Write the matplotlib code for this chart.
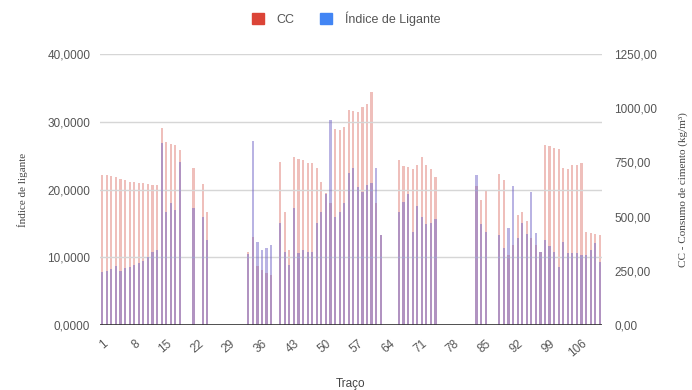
import matplotlib
matplotlib.use('Agg')
import matplotlib.pyplot as plt
from matplotlib.patches import Patch
from matplotlib.ticker import FuncFormatter, FixedLocator

plt.rcParams['font.family'] = ['Liberation Sans', 'DejaVu Sans']

# traços with data (the rest of 1..110 are empty)
n_tracos = 110
tracos = [1, 2, 3, 4, 5, 6, 7, 8, 9, 10, 11, 12, 13, 14, 15, 16, 17, 18,
          21, 23, 24,
          33, 34, 35, 36, 37, 38,
          40, 41, 42, 43, 44, 45, 46, 47, 48, 49, 50, 51, 52, 53, 54, 55,
          56, 57, 58, 59, 60, 61, 62,
          66, 67, 68, 69, 70, 71, 72, 73, 74,
          83, 84, 85,
          88, 89, 90, 91, 92, 93, 94, 95, 96, 97, 98, 99, 100, 101, 102,
          103, 104, 105, 106, 107, 108, 109, 110]

cc = [692, 692, 687, 684, 672, 669, 661, 661, 657, 653, 650, 646, 646, 907, 846, 833, 830, 807,
      723, 650, 523,
      335, 405, 272, 254, 238, 231,
      753, 523, 345, 777, 765, 761, 749, 746, 723, 661, 610, 561, 902, 899, 915, 992,
      989, 983, 1005, 1019, 1076, 561, 415,
      760, 735, 728, 719, 738, 775, 738, 720, 681,
      640, 576, 623,
      698, 669, 323, 370, 507, 523, 480, 400, 370, 335, 830, 826, 818, 810, 723,
      719, 738, 740, 746, 430, 423, 420, 415]

indice = [7.8, 8.0, 8.2, 8.7, 7.9, 8.4, 8.6, 8.9, 9.2, 9.4, 10.1, 10.8, 11.0, 26.9, 16.7, 18.0, 17.0, 24.0,
          17.2, 16.0, 12.6,
          10.5, 27.1, 12.3, 11.1, 11.3, 11.8,
          15.0, 10.8, 8.9, 17.2, 10.7, 11.1, 10.8, 10.8, 15.0, 16.7, 19.4, 30.3, 16.0, 16.7, 18.0, 22.5,
          23.2, 20.4, 19.7, 20.7, 20.9, 23.2, 13.3,
          16.7, 18.1, 19.4, 13.7, 17.5, 16.0, 14.9, 15.1, 15.7,
          22.1, 14.9, 13.8,
          13.3, 11.4, 14.3, 20.5, 12.8, 15.0, 13.5, 19.7, 13.6, 10.8, 12.6, 11.7, 10.8, 8.6, 12.2,
          10.6, 10.6, 10.6, 10.3, 10.3, 11.1, 12.1, 9.3]

xticks = list(range(1, 107, 7))

fig = plt.figure(figsize=(6.92, 3.9), dpi=100)
ax = fig.add_axes([0.1445, 0.1667, 0.7255, 0.6948])
ax2 = ax.twinx()
# left axis (Índice) drawn over the CC bars
ax.set_zorder(ax2.get_zorder() + 1)
ax.patch.set_visible(False)

bar_w = 0.48
ax2.bar(tracos, cc, width=bar_w, color='#d9685e', alpha=0.42, zorder=2)
ax.bar(tracos, indice, width=bar_w, color='#7468c8', alpha=0.5, zorder=2)

ax.set_xlim(0.5, n_tracos + 0.5)
ax.set_ylim(0, 40)
ax2.set_ylim(0, 1250)
ax.set_yticks([0, 10, 20, 30, 40])
ax2.set_yticks([0, 250, 500, 750, 1000, 1250])
ax.yaxis.set_major_formatter(FuncFormatter(lambda v, p: f'{v:.4f}'.replace('.', ',')))
ax2.yaxis.set_major_formatter(FuncFormatter(lambda v, p: f'{v:.2f}'.replace('.', ',')))

ax.xaxis.set_major_locator(FixedLocator(xticks))
ax.set_xticklabels([str(t) for t in xticks], rotation=40, ha='right',
                   rotation_mode='anchor')

ax.grid(axis='y', color='#d6d6d6', linewidth=1, zorder=0)
ax.set_axisbelow(True)
for a in (ax, ax2):
    for s in a.spines.values():
        s.set_visible(False)
    a.tick_params(length=0, colors='#555555', labelsize=8.5)
ax.tick_params(axis='y', pad=7)
ax2.tick_params(axis='y', pad=9)
ax.tick_params(axis='x', pad=9)
ax.axhline(0, color='#333333', linewidth=1.2, zorder=3)

ax.set_ylabel('Índice de ligante', family=['Liberation Serif', 'DejaVu Serif'],
              fontsize=8, color='#444444', labelpad=14)
ax2.set_ylabel('CC - Consumo de cimento (kg/m³)', family=['Liberation Serif', 'DejaVu Serif'],
               fontsize=8, color='#444444', rotation=90, labelpad=15)
ax.set_xlabel('Traço', fontsize=8.5, color='#444444', labelpad=13)

handles = [Patch(color='#db4437', label='CC'),
           Patch(color='#4285f4', label='Índice de Ligante')]
fig.legend(handles=handles, loc='center', bbox_to_anchor=(0.5, 0.953), ncol=2,
           frameon=False, fontsize=9, handlelength=1.0, handleheight=1.0,
           columnspacing=2.0, handletextpad=1.0, labelcolor='#555555')

fig.savefig('out.png', dpi=100)
